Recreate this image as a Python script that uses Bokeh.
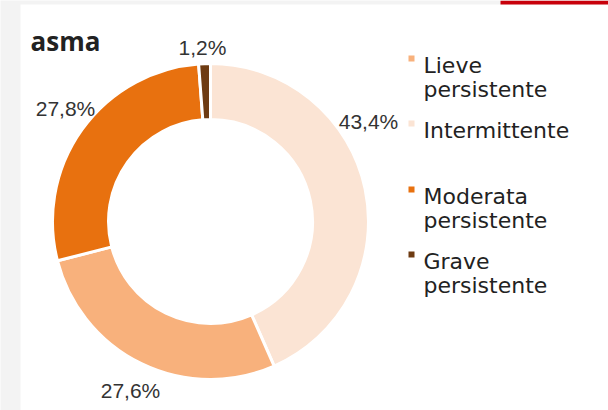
import numpy as np
from bokeh.plotting import figure
from bokeh.models import Range1d, ColumnDataSource
from bokeh.core.properties import value
from bokeh.embed import file_html
from bokeh.resources import INLINE

# ---- data ----
title = "asma"
categories = ["Intermittente", "Lieve persistente", "Moderata persistente", "Grave persistente"]
shares = [43.4, 27.6, 27.8, 1.2]
share_labels = ["43,4%", "27,6%", "27,8%", "1,2%"]
slice_colors = ["#fbe4d4", "#f8b17c", "#e8710f", "#6e3b12"]
legend_order = ["Lieve persistente", "Intermittente", "Moderata persistente", "Grave persistente"]

# ---- layout ----
W, H = 608, 410
p = figure(width=W, height=H, x_range=Range1d(0, W), y_range=Range1d(0, H),
           output_backend="svg", toolbar_location=None, min_border=0)
p.axis.visible = False
p.grid.visible = False
p.outline_line_color = None
p.background_fill_color = "#f3f3f3"
p.border_fill_color = "#f3f3f3"

# white panel and red accent bar
p.quad(left=20, right=W, bottom=0, top=H - 4, fill_color="white", line_color=None)
p.quad(left=500, right=W, bottom=H - 4, top=H, fill_color="#c8000a", line_color=None)

# donut
cx, cy = 210, H - 221
frac = np.array(shares) / sum(shares)
ends = np.cumsum(frac)
starts = ends - frac
src = ColumnDataSource(dict(
    start=np.pi / 2 - 2 * np.pi * starts,
    end=np.pi / 2 - 2 * np.pi * ends,
    color=slice_colors,
    cat=categories,
))
p.annular_wedge(x=cx, y=cy, inner_radius=102, outer_radius=158,
                start_angle="start", end_angle="end", direction="clock",
                fill_color="color", line_color="white", line_width=3, source=src)

# percentage labels (pixel anchor positions, top-down)
label_pos = {"43,4%": (368, 121), "27,6%": (130, 390), "27,8%": (65, 108), "1,2%": (202, 47)}
lx = [label_pos[t][0] for t in share_labels]
ly = [H - label_pos[t][1] for t in share_labels]
p.text(x=lx, y=ly, text=share_labels, text_font=value("Liberation Sans"),
       text_font_size="21px", text_color="#333333", text_align="center",
       text_baseline="alphabetic")

# title
p.text(x=[30], y=[H - 40], text=[title], text_font=value("Open Sans"),
       text_font_style="bold", text_font_size="26px", text_color="#222222",
       text_baseline="alphabetic")

# legend
entry_baselines = [65, 130, 196, 261]
line_gap = 24
color_of = dict(zip(categories, slice_colors))
tx, ty, tt = [], [], []
mx, my, mc = [], [], []
for name, b in zip(legend_order, entry_baselines):
    words = name.split(" ")
    if name == "Intermittente":
        lines = [name]
    else:
        lines = words
    for i, ln in enumerate(lines):
        tx.append(423)
        ty.append(H - (b + i * line_gap))
        tt.append(ln)
    mx.append(411)
    my.append(H - (b - 7))
    mc.append(color_of[name])
p.text(x=tx, y=ty, text=tt, text_font=value("DejaVu Sans"), text_font_size="22px",
       text_color="#222222", text_baseline="alphabetic")
p.scatter(x=mx, y=my, marker="square", size=6, fill_color=mc, line_color=None)

open("out.html", "w").write(file_html(p, INLINE))
